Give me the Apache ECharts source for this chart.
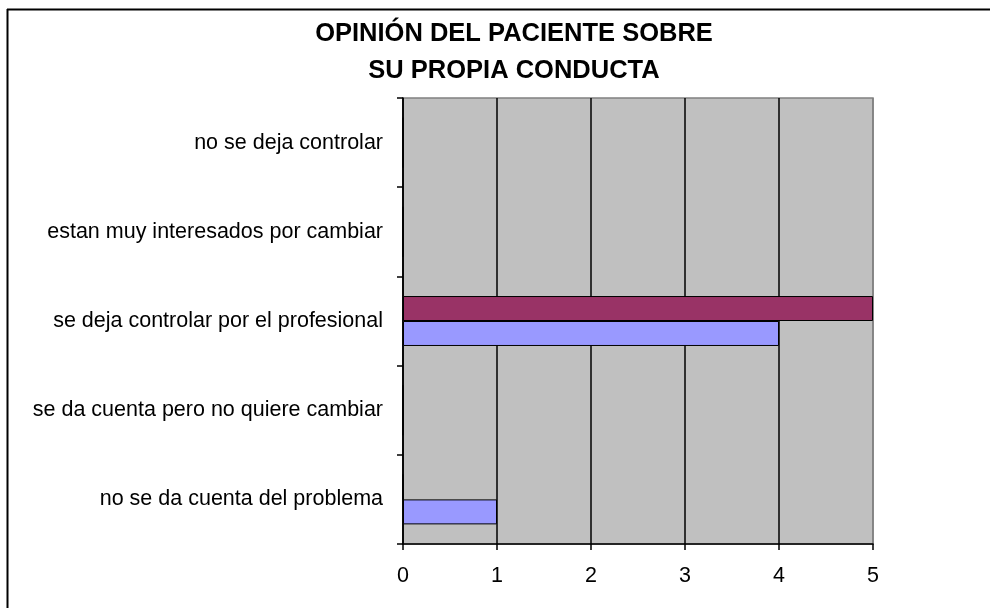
<!DOCTYPE html>
<html>
<head>
<meta charset="utf-8">
<script src="https://cdn.jsdelivr.net/npm/echarts@6/dist/echarts.min.js"></script>
<style>
html, body { margin: 0; padding: 0; background: #fff; }
#chart { width: 990px; height: 608px; }
</style>
</head>
<body>
<div id="chart"></div>
<script>
// categories from bottom to top, as the y axis lists them
const categories = [
    'no se da cuenta del problema',
    'se da cuenta pero no quiere cambiar',
    'se deja controlar por el profesional',
    'estan muy interesados por cambiar',
    'no se deja controlar'
];
const serieAzul = [1, 0, 4, 0, 0];
const serieGranate = [0, 0, 5, 0, 0];
const xTicks = [0, 1, 2, 3, 4, 5];

const font = "'Liberation Sans', Arial, sans-serif";
const chart = echarts.init(document.getElementById('chart'));

chart.setOption({
    animation: false,
    graphic: [
        { type: 'line', shape: { x1: 7, y1: 9.5, x2: 990, y2: 9.5 }, style: { stroke: '#000', lineWidth: 2 } },
        { type: 'line', shape: { x1: 7.5, y1: 9, x2: 7.5, y2: 608 }, style: { stroke: '#000', lineWidth: 2 } },
        {
            type: 'text', x: 514, y: 15,
            style: {
                text: 'OPINIÓN DEL PACIENTE SOBRE\nSU PROPIA CONDUCTA',
                textAlign: 'center',
                fontFamily: font, fontSize: 25.5, fontWeight: 'bold',
                lineHeight: 37, fill: '#000'
            }
        }
    ],
    grid: {
        left: 403, right: 117, top: 98, bottom: 64,
        show: true,
        backgroundColor: '#C0C0C0',
        borderColor: '#808080',
        borderWidth: 1.5
    },
    xAxis: {
        type: 'value',
        min: xTicks[0],
        max: xTicks[xTicks.length - 1],
        interval: 1,
        axisLine: { show: true, lineStyle: { color: '#000', width: 1.5 } },
        axisTick: { show: true, length: 6, lineStyle: { color: '#000', width: 1.5 } },
        axisLabel: { color: '#000', fontFamily: font, fontSize: 21.5, margin: 21 },
        splitLine: {
            show: true,
            lineStyle: { color: ['#000', '#000', '#000', '#000', '#000', '#808080'], width: 1.5 }
        }
    },
    yAxis: {
        type: 'category',
        data: categories,
        axisLine: { show: true, lineStyle: { color: '#000', width: 1.5 } },
        axisTick: { show: true, length: 6, lineStyle: { color: '#000', width: 1.5 } },
        axisLabel: { color: '#000', fontFamily: font, fontSize: 21.5, margin: 20 },
        splitLine: { show: false }
    },
    series: [
        {
            name: 'Serie 2',
            type: 'bar',
            data: serieGranate,
            barGap: '0%',
            barCategoryGap: '44%',
            itemStyle: { color: '#993366', borderColor: '#000', borderWidth: 1 }
        },
        {
            name: 'Serie 1',
            type: 'bar',
            data: serieAzul,
            barGap: '0%',
            barCategoryGap: '44%',
            itemStyle: { color: '#9999FF', borderColor: '#000', borderWidth: 1 }
        }
    ]
});
</script>
</body>
</html>
